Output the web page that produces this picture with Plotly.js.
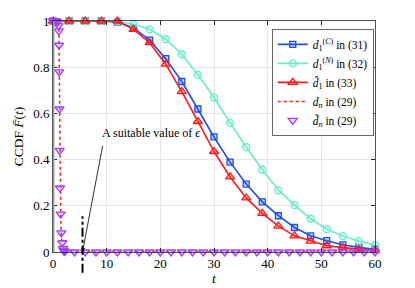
<!DOCTYPE html>
<html><head><meta charset="utf-8">
<script src="https://cdn.plot.ly/plotly-3.0.1.min.js"></script>
<style>html,body{margin:0;padding:0;background:#fff}#c{width:415px;height:288px}</style>
</head><body><div id="c"></div>
<script>
// sample times for d1 curves
const t1 = [0,3,6,9,12,15,18,21,24,27,30,33,36,39,42,45,48,51,54,57,60];
const d1C = [1,1,1,1,0.995,0.97,0.917,0.837,0.738,0.619,0.498,0.389,0.294,0.217,0.157,0.106,0.070,0.049,0.031,0.020,0.012];
const d1N = [1,1,1,1,0.998,0.986,0.964,0.921,0.856,0.767,0.669,0.559,0.454,0.356,0.267,0.203,0.144,0.099,0.069,0.047,0.030];
const d1Hat = [1,1,1,1,1,0.964,0.906,0.813,0.694,0.565,0.435,0.325,0.234,0.167,0.112,0.070,0.047,0.027,0.019,0.012,0.006];
// d_n (29)
const tN = [0,1.0,1.1,1.15,1.2,1.25,1.3,1.4,1.5,1.7,2.0,2.5,60];
const dN = [1,0.995,0.96,0.9,0.78,0.62,0.44,0.2,0.09,0.03,0.01,0,0];
// d~_n (29) markers
const tNt = [0,0.2,0.4,0.6,0.8,1.0,1.08,1.12,1.16,1.2,1.24,1.3,1.43,1.55,1.73,1.85,1.95,2.05,2.2,
  4,6,8,10,12,14,16,18,20,22,24,26,28,30,32,34,36,38,40,42,44,46,48,50,52,54,56,58,60];
const dNt = [1,1,1,1,0.995,0.98,0.957,0.895,0.78,0.619,0.44,0.277,0.164,0.083,0.04,0.016,0.008,0.004,0.002,
  0,0,0,0,0,0,0,0,0,0,0,0,0,0,0,0,0,0,0,0,0,0,0,0,0,0,0,0,0];
const epsilon = 5.5;
const xTicks = [0,10,20,30,40,50,60];
const yTicks = [0,0.2,0.4,0.6,0.8,1];
const yTickText = ['0','0.2','0.4','0.6','0.8','1'];

const blue='#1f4fe6', cyan='#66eec8', red='#ff1a1a', purple='#a040ff';
const F = 'Liberation Serif';

const traces = [
 {x:t1,y:d1C,name:'<i>d</i><sub>1</sub><sup>(<i>C</i>)</sup> in (31)',mode:'lines+markers',
  line:{color:blue,width:1.6},marker:{symbol:'square',size:6,color:'rgba(31,79,230,0.25)',line:{color:blue,width:1.3}},cliponaxis:false},
 {x:t1,y:d1N,name:'<i>d</i><sub>1</sub><sup>(<i>N</i>)</sup> in (32)',mode:'lines+markers',
  line:{color:cyan,width:1.6},marker:{symbol:'circle',size:7,color:'rgba(102,238,200,0.2)',line:{color:cyan,width:1.3}},cliponaxis:false},
 {x:t1,y:d1Hat,name:'<i>d\u0302</i><sub>1</sub> in (33)',mode:'lines+markers',
  line:{color:red,width:1.6},marker:{symbol:'triangle-up',size:8,color:'rgba(255,26,26,0.25)',line:{color:red,width:1.3}},cliponaxis:false},
 {x:tN,y:dN,name:'<i>d</i><sub><i>n</i></sub> in (29)',mode:'lines',
  line:{color:red,width:1.5,dash:'dot'},cliponaxis:false},
 {x:tNt,y:dNt,name:'<i>d\u0303</i><sub><i>n</i></sub> in (29)',mode:'markers',
  marker:{symbol:'triangle-down',size:8,color:'rgba(160,64,255,0.2)',line:{color:purple,width:1.3}},cliponaxis:false}
];

const layout = {
 width:415,height:288,margin:{l:53,r:40,t:21,b:36},
 paper_bgcolor:'#fff',plot_bgcolor:'#fff',
 font:{family:F,size:12,color:'#000'},
 showlegend:true,
 legend:{x:0.68,y:0.965,xanchor:'left',yanchor:'top',bgcolor:'#fff',bordercolor:'#404040',borderwidth:0.8,
   font:{family:F,size:11.5,color:'#000'},tracegroupgap:0,itemwidth:30},
 xaxis:{range:[0,60],tickvals:xTicks,ticks:'inside',ticklen:4,tickcolor:'#262626',showgrid:true,gridcolor:'#e6e6e6',
   showline:true,mirror:'ticks',linecolor:'#262626',linewidth:0.8,zeroline:false,
   title:{text:'<i>t</i>',font:{family:F,size:13.5,color:'#000'},standoff:2},tickfont:{family:F,size:13,color:'#000'}},
 yaxis:{range:[0,1],tickvals:yTicks,ticktext:yTickText,ticks:'inside',ticklen:4,tickcolor:'#262626',showgrid:true,gridcolor:'#e6e6e6',
   showline:true,mirror:'ticks',linecolor:'#262626',linewidth:0.8,zeroline:false,
   title:{text:'CCDF <i>F\u0304</i>(<i>t</i>)',font:{family:F,size:13.5,color:'#000'},standoff:6},tickfont:{family:F,size:13,color:'#000'}},
 shapes:[
  {type:'line',xref:'x',yref:'y',x0:0,x1:0,y0:0,y1:1,line:{color:'#a0a0a0',width:3},layer:'above'},
  {type:'line',xref:'x',yref:'paper',x0:epsilon,x1:epsilon,y0:-0.09,y1:0.155,line:{color:'#000',width:2,dash:'dashdot'},layer:'above'}
 ],
 annotations:[
  {xref:'x',yref:'y',x:epsilon,y:0,axref:'x',ayref:'y',ax:9.3,ay:0.466,text:'',showarrow:true,arrowhead:2,arrowsize:1,arrowwidth:0.8,arrowcolor:'#000'},
  {xref:'x',yref:'y',x:8.7,y:0.515,xanchor:'left',yanchor:'middle',text:'A suitable value of <i>\u03f5</i>',showarrow:false,font:{family:F,size:12,color:'#000'}}
 ]
};
Plotly.newPlot('c',traces,layout,{staticPlot:true,displayModeBar:false});
</script></body></html>
